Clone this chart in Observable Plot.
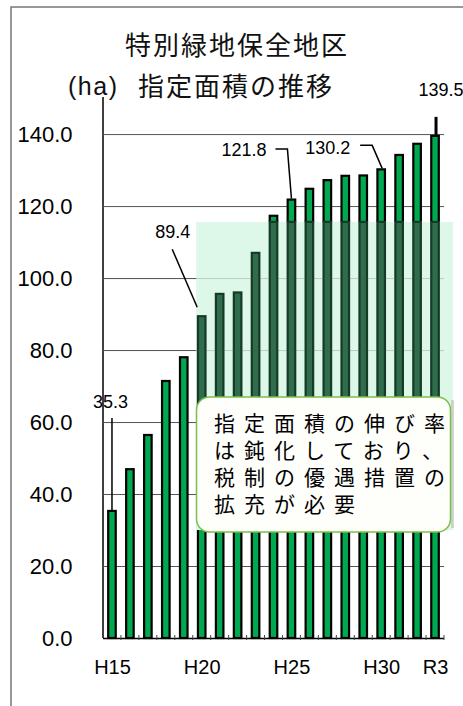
<!DOCTYPE html>
<html><head><meta charset="utf-8">
<script src="https://cdn.jsdelivr.net/npm/d3@7"></script>
<script src="https://cdn.jsdelivr.net/npm/@observablehq/plot@0.6"></script>
<style>
html,body{margin:0;padding:0;background:#fff;}
#chart{position:relative;width:463px;height:706px;overflow:hidden;}
</style></head><body><div id="chart"></div>
<script>
// ---- data ----
const years = ["H15","H16","H17","H18","H19","H20","H21","H22","H23","H24","H25","H26","H27","H28","H29","H30","R1","R2","R3"];
const areas = [35.3,46.9,56.4,71.4,78.0,89.4,95.6,96.0,107.0,117.3,121.8,124.8,127.2,128.4,128.5,130.2,134.2,137.3,139.5];
const shownXTicks = ["H15","H20","H25","H30","R3"];
const yTicks = [0,20,40,60,80,100,120,140];
const labelledYears = ["H15","H20","H25","H30","R3"];
const titleLines = ["特別緑地保全地区","指定面積の推移"];
const unitLabel = "(ha)";
const noteLines = ["指定面積の伸び率","は鈍化しており、","税制の優遇措置の","拡充が必要"];

const rows = years.map((year, i) => ({year, value: areas[i]}));

// ---- layout / style ----
const GREEN = "#00a84f";
const LATIN = "'Liberation Sans', Arial, sans-serif";
const CJK = "'Noto Sans CJK JP', 'Noto Sans', sans-serif";
const labelLayout = {
  H15: {tx: -2, ty: -109, anchor: "middle", path: [[0,-93],[0,0]], w: 1.5},
  H20: {tx: -29.5, ty: -84, anchor: "middle", path: [[-29.5,-67],[-4.5,-9]], w: 1.5},
  H25: {tx: -48, ty: -50, anchor: "middle", path: [[-16,-50.5],[-4,-50.5],[0,-1]], w: 1.5},
  H30: {tx: -54, ty: -22, anchor: "middle", path: [[-21,-24],[-9,-24],[1,-1]], w: 1.5},
  R3:  {tx: 28, ty: -46, anchor: "end", path: [[1,-19],[1,-1]], w: 3}
};
const overlayTop = 115.6, overlayBottom = 60;

const center = (scales, c) => scales.x(c) + (scales.x.bandwidth ? scales.x.bandwidth() / 2 : 0);

function addText(g, {x, y, text, font, size, ls = 0, anchor = "start", fill = "#111"}) {
  g.append("text").attr("x", x).attr("y", y).attr("text-anchor", anchor).attr("dominant-baseline", "central")
    .attr("font-family", font).attr("font-size", size).attr("letter-spacing", ls).attr("fill", fill).text(text);
}

function decoration(index, scales, values, dim) {
  const g = d3.create("svg:g");
  // outer frame (top and left edges)
  g.append("path").attr("d", `M11,706V7H463`).attr("fill", "none").attr("stroke", "#777").attr("stroke-width", 1.5);
  // title
  addText(g, {x: 237, y: 43, text: titleLines[0], font: CJK, size: 26, ls: 2, anchor: "middle"});
  addText(g, {x: 236, y: 84, text: titleLines[1], font: CJK, size: 26, ls: 2, anchor: "middle"});
  addText(g, {x: 68, y: 86, text: unitLabel, font: LATIN, size: 25, ls: 1.5});
  // y axis line
  g.append("line").attr("x1", dim.marginLeft).attr("x2", dim.marginLeft).attr("y1", dim.marginTop).attr("y2", scales.y(0))
    .attr("stroke", "#000").attr("stroke-width", 1.5);
  return g.node();
}

function baseTicks(index, scales) {
  const g = d3.create("svg:g");
  const step = scales.x.step ? scales.x.step() : 18;
  const y0 = scales.y(0);
  years.forEach(c => {
    const x = center(scales, c) + step / 2;
    g.append("line").attr("x1", x).attr("x2", x).attr("y1", y0 - 3).attr("y2", y0 + 2).attr("stroke", "#444").attr("stroke-width", 1);
  });
  return g.node();
}

function overlay(index, scales) {
  const g = d3.create("svg:g");
  const x0 = center(scales, "H20") - 5.5, x1 = center(scales, "R3") + 18;
  g.append("rect").attr("x", x0).attr("y", scales.y(overlayTop)).attr("width", x1 - x0)
    .attr("height", scales.y(30) - scales.y(overlayTop)).attr("fill", "#ddf8e9");
  return g.node();
}

function callout(index, scales) {
  const g = d3.create("svg:g");
  g.append("rect").attr("x", 451).attr("y", 400).attr("width", 3).attr("height", 128).attr("fill", "#bbb").attr("opacity", 0.6);
  g.append("rect").attr("x", 196.5).attr("y", 397).attr("width", 254).attr("height", 135).attr("rx", 13)
    .attr("fill", "#fefefb").attr("stroke", "#7cbf4a").attr("stroke-width", 1.5);
  noteLines.forEach((t, i) => addText(g, {x: 214, y: 422 + i * 27, text: t, font: CJK, size: 21, ls: 9, fill: "#000"}));
  return g.node();
}

function leaders(index, scales) {
  const g = d3.create("svg:g");
  rows.filter(d => labelledYears.includes(d.year)).forEach(d => {
    const L = labelLayout[d.year];
    const cx = center(scales, d.year), cy = scales.y(d.value);
    const pts = L.path.map(([dx, dy]) => [cx + dx, cy + dy]);
    g.append("path").attr("d", d3.line()(pts)).attr("fill", "none").attr("stroke", "#000").attr("stroke-width", L.w);
  });
  return g.node();
}

const labelMarks = rows.filter(d => labelledYears.includes(d.year)).map(d => {
  const L = labelLayout[d.year];
  return Plot.text([d], {x: "year", y: "value", text: v => v.value.toFixed(1), dx: L.tx, dy: L.ty,
    textAnchor: L.anchor, fontSize: 18, fill: "#000"});
});

const chart = Plot.plot({
  width: 463, height: 706,
  marginLeft: 103, marginRight: 19, marginTop: 97, marginBottom: 68,
  x: {type: "band", domain: years, paddingInner: 0.58, paddingOuter: 0.29, round: false, label: null},
  y: {domain: [0, 150.3], label: null},
  style: {fontFamily: LATIN, background: "transparent", overflow: "visible", color: "#000"},
  marks: [
    decoration,
    Plot.ruleY(yTicks.slice(1), {stroke: "#555", strokeWidth: 1}),
    Plot.ruleY([0], {stroke: "#000", strokeWidth: 1.5}),
    baseTicks,
    Plot.axisY({ticks: yTicks, tickFormat: d => d.toFixed(1), tickSize: 0, tickPadding: 31, fontSize: 22, label: null}),
    Plot.axisX({ticks: shownXTicks, tickSize: 0, tickPadding: 21, fontSize: 20, label: null}),
    Plot.barY(rows, {x: "year", y: "value", fill: GREEN, stroke: "#000", strokeWidth: 2.2}),
    overlay,
    Plot.barY(rows.slice(5), {x: "year", y1: overlayBottom, y2: d => Math.min(d.value, overlayTop),
      fill: "#2f6d4c", stroke: "#163a27", strokeWidth: 2.2}),
    Plot.ruleY([100, 80], {stroke: "#555", strokeWidth: 1, strokeOpacity: 0.25}),
    callout,
    leaders,
    ...labelMarks
  ]
});
document.getElementById("chart").appendChild(chart);
</script>
</body></html>
